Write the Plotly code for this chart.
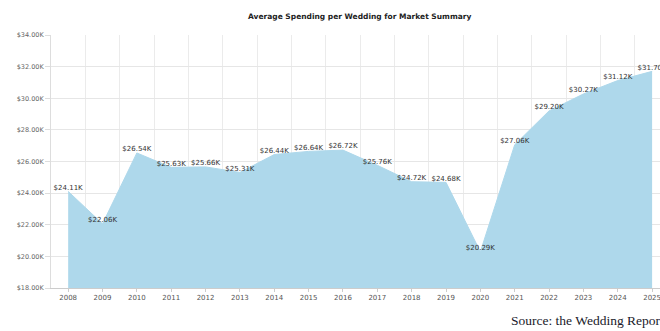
import plotly.graph_objects as go

years = list(range(2008, 2026))
values = [24.11, 22.06, 26.54, 25.63, 25.66, 25.31, 26.44, 26.64, 26.72,
          25.76, 24.72, 24.68, 20.29, 27.06, 29.20, 30.27, 31.12, 31.70]
labels = [f"${v:.2f}K" for v in values]
title = "Average Spending per Wedding for Market Summary"
source = "Source: the Wedding Report"

fig = go.Figure()
fig.add_trace(go.Scatter(
    x=years, y=values, mode="lines+text", text=labels,
    textposition="top center",
    textfont=dict(family="DejaVu Sans", size=7, color="#333333"),
    fill="tozeroy", fillcolor="rgb(174,216,235)",
    line=dict(color="rgb(174,216,235)", width=1),
    cliponaxis=False, hoverinfo="skip",
))

fig.update_layout(
    width=660, height=331,
    margin=dict(l=51, r=0, t=35, b=43),
    paper_bgcolor="white", plot_bgcolor="white",
    showlegend=False,
    title=dict(text=f"<b>{title}</b>", x=0.545, xanchor="center",
               y=0.95, yanchor="middle",
               font=dict(family="DejaVu Sans", size=7.5, color="#222222")),
    xaxis=dict(
        range=[2007.5, 2025.23], tickmode="array", tickvals=years,
        ticktext=[str(y) for y in years],
        ticklabeloverflow="allow",
        showgrid=False, showline=True, linecolor="#cccccc", linewidth=1,
        ticks="outside", ticklen=3, tickcolor="#cccccc",
        tickfont=dict(family="DejaVu Sans", size=7, color="#555555"),
        minor=dict(tick0=2007.5, dtick=1, showgrid=True,
                   gridcolor="#ebebeb", gridwidth=1, ticks=""),
        zeroline=False,
    ),
    yaxis=dict(
        range=[18, 34], dtick=2, tick0=18,
        tickprefix="$", ticksuffix="K", tickformat=".2f",
        showgrid=True, gridcolor="#e6e6e6", gridwidth=1,
        showline=True, linecolor="#dddddd", linewidth=1,
        ticks="outside", ticklen=5, tickcolor="#dddddd",
        tickfont=dict(family="DejaVu Sans", size=6.5, color="#666666"),
        zeroline=False,
    ),
    annotations=[dict(
        text=source, xref="paper", yref="paper", x=(509 - 51) / 609,
        y=-0.13, xanchor="left", yanchor="middle", showarrow=False,
        font=dict(family="Liberation Serif", size=13.5, color="#1a1a2a"),
    )],
)

fig.write_html("out.html")
